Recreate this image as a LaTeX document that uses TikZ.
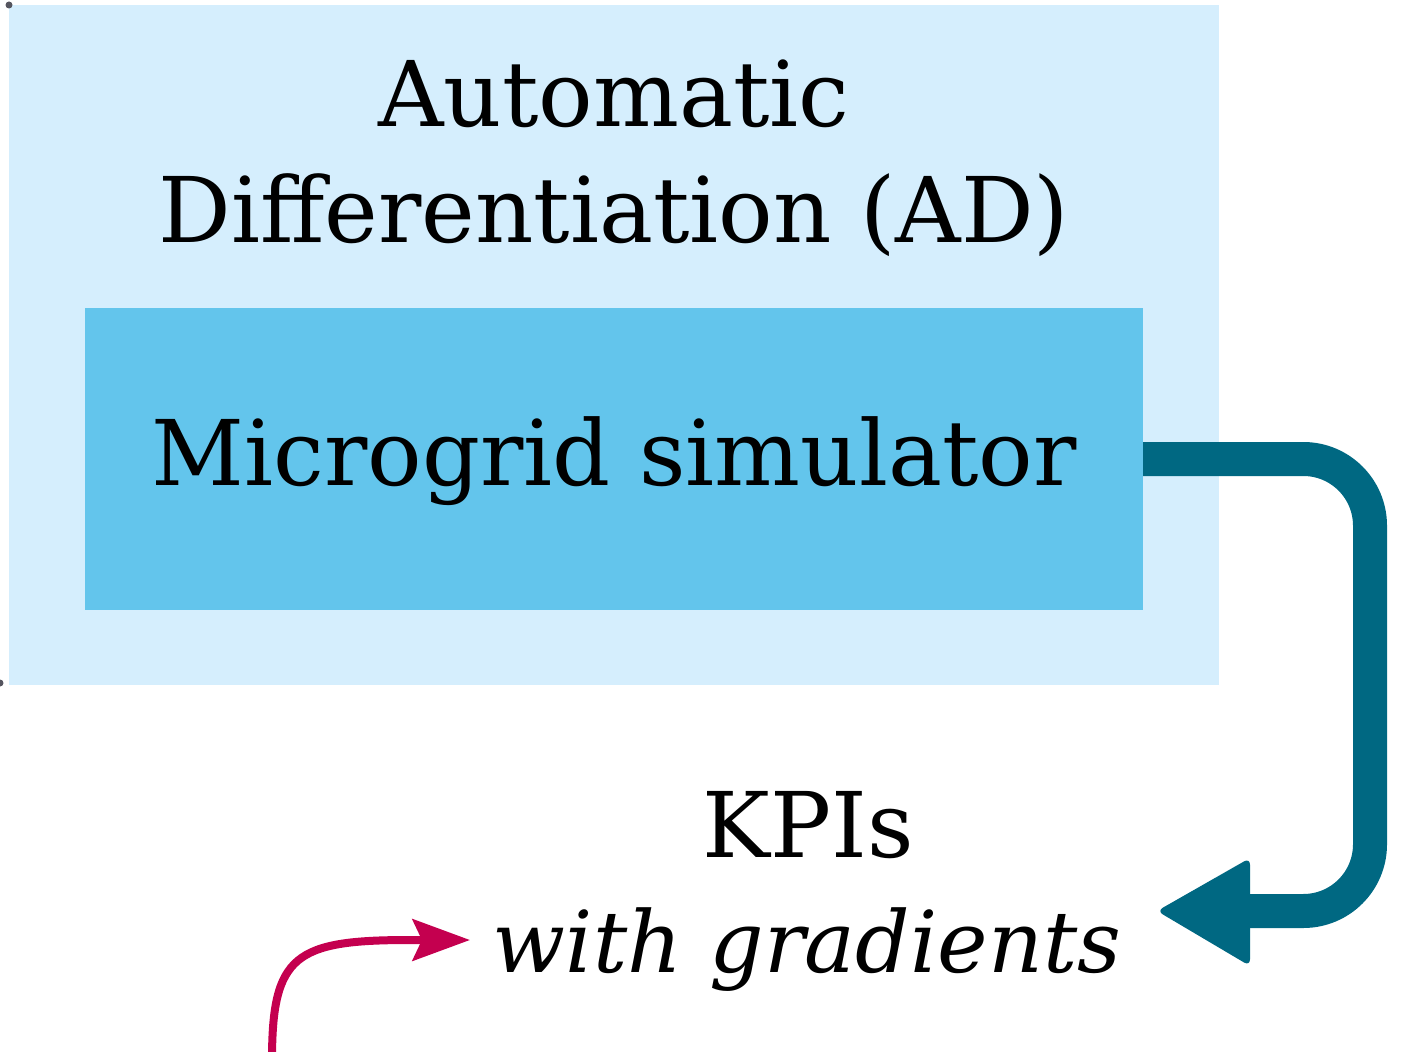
\documentclass[tikz,border=0pt]{standalone}
\usepackage{fontspec}
\setmainfont{DejaVu Serif}
\usetikzlibrary{arrows.meta}
\definecolor{adbg}{HTML}{D5EEFD}
\definecolor{simbg}{HTML}{63C5EC}
\definecolor{tealc}{HTML}{006882}
\definecolor{magc}{HTML}{C4004F}
\definecolor{dotc}{HTML}{55555F}
\tikzset{
  boxstyle/.style={inner sep=0pt, outer sep=0pt, draw=none},
  bigtext/.style={font=\fontsize{68}{87}\selectfont, inner sep=0pt, align=center},
  itext/.style={font=\fontsize{64}{87}\selectfont\itshape, inner sep=0pt, align=center},
  tealarrow/.style={draw=tealc, line width=25.5pt, rounded corners=50pt},
  magarrow/.style={draw=magc, line width=6pt, -{Stealth[length=43pt,width=31pt,inset=7pt]}},
  dotstyle/.style={fill=dotc}
}
\begin{document}
\begin{tikzpicture}[x=0.75pt,y=-0.75pt]
\useasboundingbox (0,0) rectangle (1406,1052);
\node[boxstyle, fill=adbg, minimum width=907.5pt, minimum height=510pt] (ad) at (614,345) {};
\node[boxstyle, fill=simbg, minimum width=793.5pt, minimum height=226.5pt] (sim) at (614,459) {};
\node[bigtext, anchor=base] (title) at (614,243) {Automatic\\Differentiation (AD)};
\node[bigtext, anchor=base] (simtext) at (614,485) {Microgrid simulator};
\node[bigtext, anchor=base] (kpi) at (808,857) {KPIs};
\node[itext, anchor=base] (grad) at (807,972) {with gradients};
\fill[dotstyle] (9,5) circle (3.5);
\fill[dotstyle] (0,683) circle (3.5);
% teal connector
\coordinate (tealend) at (1250,911);
\draw[tealarrow] (sim.east) -- (1370,459) -- (1370,911) -- (tealend);
\fill[tealc, rounded corners=5pt] (1250,858) -- (1157,911) -- (1250,966) -- cycle;
% magenta connector
\coordinate (magstart) at (272,1060);
\coordinate (magend) at (470,940);
\draw[magarrow] (magstart) .. controls (272,955) and (295,940) .. (410,940) -- (magend);
\end{tikzpicture}
\end{document}
